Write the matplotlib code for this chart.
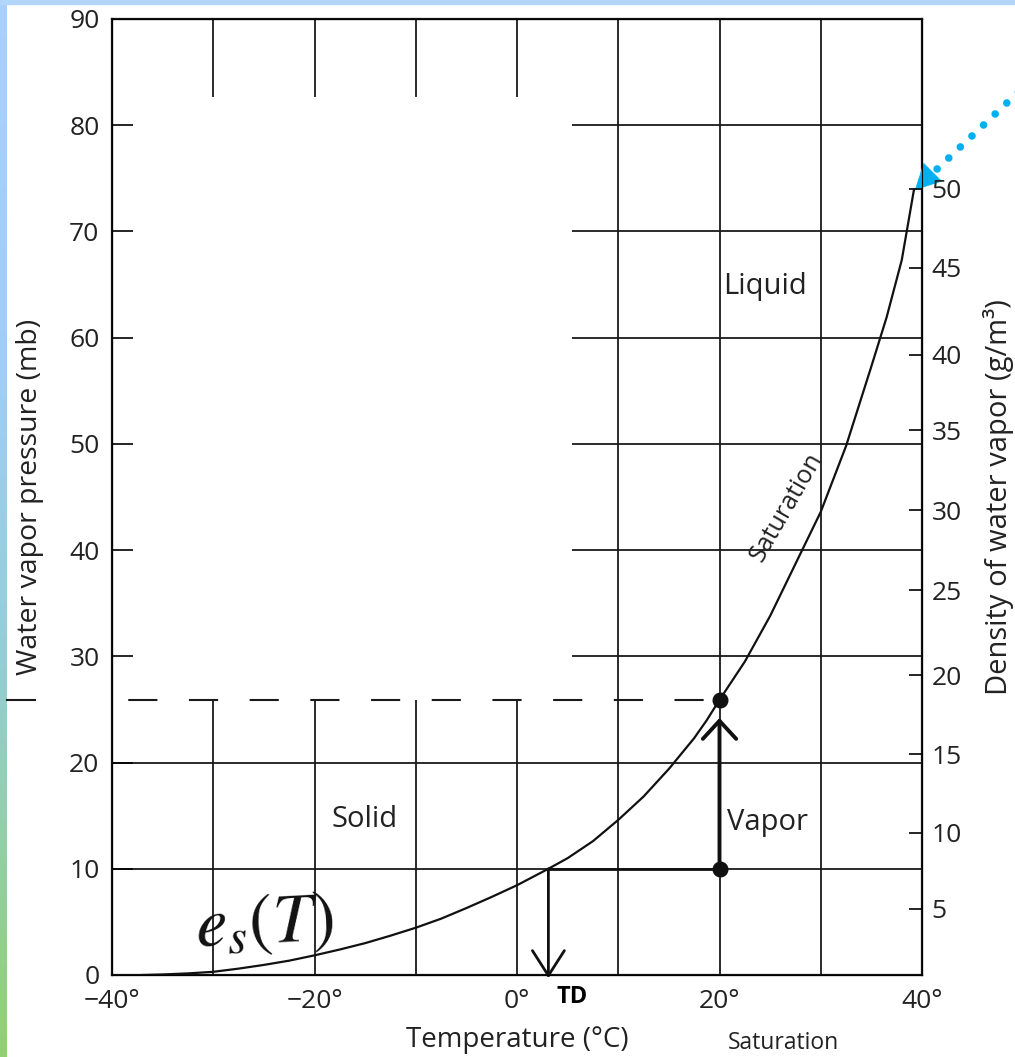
import matplotlib
matplotlib.use('Agg')
import matplotlib.pyplot as plt
import numpy as np
from matplotlib.colors import LinearSegmentedColormap
from matplotlib.patches import Rectangle

plt.rcParams['font.family'] = ['Open Sans', 'DejaVu Sans']
plt.rcParams['mathtext.fontset'] = 'stix'
plt.rcParams['lines.scale_dashes'] = False

# saturation vapour pressure curve (deg C, mb)
temp_c = [-37, -35, -32.5, -30, -27.5, -25, -22.5, -20, -17.5, -15, -12.5, -10,
          -7.5, -5, -2.5, 0, 3.1, 5, 7.5, 10, 12.5, 15, 17.5, 18.75, 20, 21.25,
          22.5, 25, 27.5, 30, 32.5, 35, 36.5, 38, 39.2]
e_sat = [0.0, 0.05, 0.15, 0.3, 0.6, 0.95, 1.35, 1.85, 2.4, 3.0, 3.7, 4.45,
         5.3, 6.3, 7.35, 8.45, 10.0, 11.0, 12.6, 14.6, 16.8, 19.4, 22.3, 24.0,
         25.9, 27.7, 29.5, 33.8, 38.7, 43.6, 49.8, 57.3, 61.9, 67.3, 73.9]

# example air parcel: 20 deg C with 10 mb vapour, saturates at 25.9 mb
air_temp = 20
air_e = 10
sat_e = 25.9
dew_point = 3.1

# right axis: water vapour density (g/m3) at the pressure where its tick sits
density_ticks = [5, 10, 15, 20, 25, 30, 35, 40, 45, 50]
density_pos = [6.25, 13.4, 20.8, 28.2, 36.2, 43.75, 51.3, 58.4, 66.6, 74.0]

x_ticks = [-40, -20, 0, 20, 40]
x_labels = ['\u221240\u00b0', '\u221220\u00b0', '0\u00b0', '20\u00b0', '40\u00b0']
y_ticks = [0, 10, 20, 30, 40, 50, 60, 70, 80, 90]

# grid, partly blanked out in the upper left of the original figure
full_v = [10, 20, 30]
part_v = [-30, -20, -10, 0]
full_h = [10, 20]
part_h = [30, 40, 50, 60, 70, 80]
blank_top = 82.7
blank_right = 5.4

W, H = 1015, 1057
fig = plt.figure(figsize=(W / 100, H / 100), dpi=100, facecolor='white')

# slide frame: light blue band on top, blue->green strip on the left
fig.patches.append(Rectangle((0, 1 - 4 / H), 1, 4 / H, transform=fig.transFigure,
                             color='#b1d5fb', zorder=0))
strip = fig.add_axes([0, 0, 7 / W, 1])
cmap = LinearSegmentedColormap.from_list(
    'frame', [(0, '#aad0fc'), (0.35, '#a0cdf6'), (0.62, '#95cdd6'),
              (0.8, '#93cfa6'), (1, '#92d070')])
strip.imshow(np.linspace(0, 1, 256).reshape(-1, 1), cmap=cmap, aspect='auto')
strip.axis('off')

ax = fig.add_axes([112 / W, 82 / H, 810 / W, 956 / H])
ax.set_xlim(-40, 40)
ax.set_ylim(0, 90)

gkw = dict(color='#1a1a1a', lw=1.3, zorder=1)
ax.vlines(full_v, 0, 90, **gkw)
ax.vlines(part_v, 0, sat_e, **gkw)
ax.vlines(part_v, blank_top, 90, **gkw)
ax.hlines(full_h, -40, 40, **gkw)
ax.hlines(part_h, blank_right, 40, **gkw)

# dashed saturation level
ax.plot([-40, air_temp], [sat_e, sat_e], color='#1a1a1a', lw=1.5,
        linestyle=(32, (21, 22.7)), zorder=2)
ax.plot([-50.4, -47.6], [sat_e, sat_e], color='#1a1a1a', lw=1.5, clip_on=False)

# saturation curve
ax.plot(temp_c, e_sat, color='#111111', lw=1.6, zorder=3, solid_joinstyle='round')

# cooling path to dew point and moistening path to saturation
ax.plot([dew_point, air_temp], [air_e, air_e], color='#111111', lw=2.0, zorder=3)
ax.annotate('', xy=(dew_point, -0.3), xytext=(dew_point, air_e),
            arrowprops=dict(arrowstyle='->,head_length=18,head_width=11.5',
                            mutation_scale=1, lw=2.0, color='#111111',
                            shrinkA=0, shrinkB=0), annotation_clip=False)
ax.annotate('', xy=(air_temp, 24.2), xytext=(air_temp, air_e),
            arrowprops=dict(arrowstyle='->,head_length=13,head_width=12',
                            mutation_scale=1, lw=2.8, color='#111111',
                            shrinkA=0, shrinkB=0))
ax.plot([air_temp, air_temp], [air_e, sat_e], 'o', ms=10.5, color='#111111', zorder=5)

# labels inside the plot
ax.text(-15.1, 14.6, 'Solid', fontsize=21, ha='center', va='center', color='#222222')
ax.text(24.7, 14.4, 'Vapor', fontsize=21, ha='center', va='center', color='#222222')
ax.text(24.5, 64.8, 'Liquid', fontsize=21, ha='center', va='center', color='#222222')
ax.text(26.6, 44.0, 'Saturation', fontsize=18, ha='center', va='center',
        rotation=60, color='#222222')
ax.text(-32.0, 2.7, r'$e_s(T)$', fontsize=51, ha='left', va='baseline',
        rotation=3, color='#111111')
ax.text(dew_point + 2.3, -2.1, 'TD', fontsize=17, fontweight='bold',
        ha='center', va='center', clip_on=False)
ax.text(26.3, -6.4, 'Saturation', fontsize=16.5, ha='center', va='center',
        clip_on=False, color='#222222')

# blue pointer to the end of the curve
tip = (temp_c[-1] + 0.1, e_sat[-1])
ax.annotate('', xy=tip, xytext=(1030, H - 81), textcoords='figure pixels',
            arrowprops=dict(arrowstyle='-', lw=5.5, color='#00b0f0',
                            linestyle=(0, (0.01, 11.5)), capstyle='round',
                            shrinkA=0, shrinkB=18), annotation_clip=False)
ax.annotate('', xy=tip, xytext=(12.5, 12.5), textcoords='offset points',
            arrowprops=dict(arrowstyle='-|>,head_length=1.75,head_width=0.9',
                            mutation_scale=10, lw=0.5, color='#00b0f0',
                            shrinkA=0, shrinkB=0), annotation_clip=False)

# axes, ticks and titles
for s in ax.spines.values():
    s.set_linewidth(1.6)
    s.set_color('#111111')
ax.set_xticks(x_ticks, x_labels)
ax.set_yticks(y_ticks)
ax.tick_params(axis='x', length=0, pad=10, labelsize=19, labelcolor='#222222')
ax.tick_params(axis='y', direction='in', length=15, width=1.2, pad=9,
               labelsize=19, labelcolor='#222222')
ax.set_xlabel('Temperature (\u00b0C)', fontsize=20, labelpad=9, color='#222222')
ax.set_ylabel('Water vapor pressure (mb)', fontsize=20.5, labelpad=18, color='#222222')

ax2 = ax.twinx()
ax2.set_ylim(0, 90)
ax2.set_yticks(density_pos, [str(d) for d in density_ticks])
ax2.tick_params(axis='y', direction='in', length=9.5, width=1.2, pad=7,
                labelsize=19, labelcolor='#222222')
ax2.set_ylabel('Density of water vapor (g/m\u00b3)', fontsize=21, labelpad=15,
               color='#222222')

fig.savefig('out.png', dpi=100, facecolor='white')
